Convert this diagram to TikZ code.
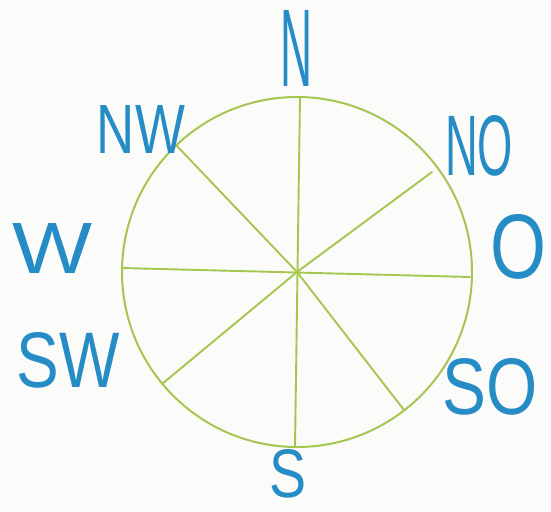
\documentclass[tikz,border=0pt]{standalone}
\usepackage{fontspec}
\usepackage{graphicx}
\newfontfamily\handfont{Liberation Sans}
\definecolor{paper}{RGB}{251,251,249}
\definecolor{pencilgreen}{RGB}{165,198,80}
\definecolor{pencilblue}{RGB}{38,140,198}
\tikzset{
  lbl/.style={inner sep=0pt, text=pencilblue, font=\handfont},
  rim/.style={draw=pencilgreen, line width=2pt},
  spoke/.style={draw=pencilgreen, line width=1.9pt, line cap=round}
}
\begin{document}
\begin{tikzpicture}[x=1pt,y=-1pt]
\fill[paper] (0,0) rectangle (551,511);
\useasboundingbox (0,0) rectangle (551,511);
% centre and rim
\coordinate (c) at (297,272);
\draw[rim] (c) circle[radius=175];
% spoke ends
\coordinate (pN) at (300,97);
\coordinate (pS) at (295,447);
\coordinate (pW) at (122,268);
\coordinate (pO) at (470,277);
\coordinate (pNW) at (176,145);
\coordinate (pSO) at (404,410);
\coordinate (pNO) at (432,172);
\coordinate (pSW) at (162,384);
\draw[spoke] (pN) -- (pS);
\draw[spoke] (pW) -- (pO);
\draw[spoke] (pNW) -- (c) -- (pSO);
\draw[spoke] (pNO) -- (c) -- (pSW);
% labels
\node[lbl] (N)  at (297,48)  {\resizebox{32pt}{76pt}{N}};
\node[lbl] (NW) at (141,129) {\resizebox{88pt}{48pt}{NW}};
\node[lbl] (NO) at (479,146) {\resizebox{68pt}{60pt}{NO}};
\node[lbl] (W)  at (53,248)  {\resizebox{80pt}{50pt}{W}};
\node[lbl] (O)  at (518,247) {\resizebox{56pt}{64pt}{O}};
\node[lbl] (SW) at (68,360)  {\resizebox{103pt}{55pt}{SW}};
\node[lbl] (SO) at (490,387) {\resizebox{95pt}{56pt}{SO}};
\node[lbl] (S)  at (288,474) {\resizebox{37pt}{48pt}{S}};
\end{tikzpicture}
\end{document}
